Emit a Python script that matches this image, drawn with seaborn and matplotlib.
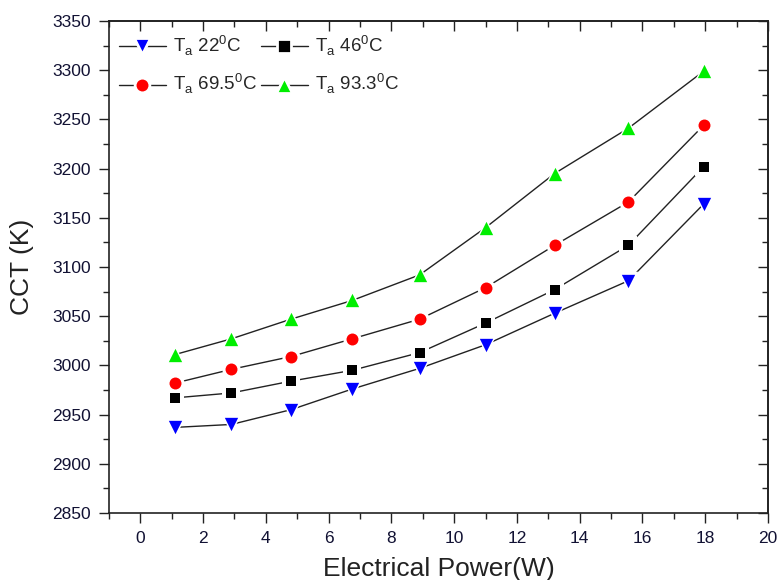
import matplotlib
matplotlib.use("Agg")
import matplotlib.pyplot as plt
from matplotlib.lines import Line2D
from matplotlib.ticker import MultipleLocator
import seaborn as sns
import pandas as pd

# Electrical power (W) and measured CCT (K) at four ambient temperatures
power = [1.1, 2.9, 4.8, 6.75, 8.9, 11.0, 13.2, 15.55, 17.95]
cct_22 = [2937, 2940, 2955, 2976, 2997, 3021, 3053, 3086, 3164]
cct_46 = [2967, 2972, 2984, 2995, 3013, 3043, 3077, 3122, 3202]
cct_695 = [2982, 2996, 3009, 3027, 3047, 3079, 3122, 3166, 3244]
cct_933 = [3011, 3027, 3047, 3066, 3092, 3140, 3195, 3241, 3299]

labels = [r"T$_{\rm a}$ 22$^{\rm 0}$C", r"T$_{\rm a}$ 46$^{\rm 0}$C",
          r"T$_{\rm a}$ 69.5$^{\rm 0}$C", r"T$_{\rm a}$ 93.3$^{\rm 0}$C"]
series = [cct_22, cct_46, cct_695, cct_933]
colors = ["#0000ff", "#000000", "#ff0000", "#00ee00"]
markers = ["v", "s", "o", "^"]
sizes = [9.6, 7.8, 8.6, 9.6]   # marker sizes in points

sns.set_theme(style="ticks")
plt.rcParams["font.family"] = ["Liberation Sans", "DejaVu Sans"]
plt.rcParams["mathtext.fontset"] = "custom"
plt.rcParams["mathtext.rm"] = "Liberation Sans"

fig = plt.figure(figsize=(7.8, 5.8), dpi=100)
ax = fig.add_axes([0.1397, 0.1155, 0.8449, 0.8483])

for vals, col, mk, ms in zip(series, colors, markers, sizes):
    df = pd.DataFrame({"power": power, "cct": vals})
    sns.lineplot(data=df, x="power", y="cct", ax=ax, color="#222222",
                 linewidth=1.0, zorder=2)
    # white halo leaves a small gap between the line and each marker
    sns.scatterplot(data=df, x="power", y="cct", ax=ax, marker=mk,
                    color="white", s=(ms + 4.5) ** 2, linewidth=0, zorder=3)
    sns.scatterplot(data=df, x="power", y="cct", ax=ax, marker=mk,
                    color=col, s=ms ** 2, linewidth=0, zorder=4)

ax.set_xlim(-1, 20)
ax.set_ylim(2850, 3350)
ax.xaxis.set_major_locator(MultipleLocator(2))
ax.xaxis.set_minor_locator(MultipleLocator(1))
ax.yaxis.set_major_locator(MultipleLocator(50))
ax.yaxis.set_minor_locator(MultipleLocator(25))

for s in ax.spines.values():
    s.set_visible(True)
    s.set_color("#222222")
    s.set_linewidth(1.2)

ax.tick_params(which="both", direction="out", colors="#222222",
               labelcolor="#111133", labelsize=12.5, width=1.0, pad=6)
ax.tick_params(which="major", length=7)
ax.tick_params(which="minor", length=4)

# inward ticks on the top and right spines
sec_x = ax.secondary_xaxis("top")
sec_x.xaxis.set_major_locator(MultipleLocator(2))
sec_x.xaxis.set_minor_locator(MultipleLocator(1))
sec_x.tick_params(which="both", direction="in", labeltop=False, width=1.0,
                  colors="#222222")
sec_x.tick_params(which="major", length=7)
sec_x.tick_params(which="minor", length=4)
sec_y = ax.secondary_yaxis("right")
sec_y.yaxis.set_major_locator(MultipleLocator(50))
sec_y.yaxis.set_minor_locator(MultipleLocator(25))
sec_y.tick_params(which="both", direction="in", labelright=False, width=1.0,
                  colors="#222222")
sec_y.tick_params(which="major", length=7)
sec_y.tick_params(which="minor", length=4)

ax.set_xlabel("Electrical Power(W)", fontsize=19, color="#222222", labelpad=8)
ax.set_ylabel("CCT (K)", fontsize=19, color="#222222", labelpad=13)

handles = []
for col, mk, ms, lab in zip(colors, markers, sizes, labels):
    handles.append(Line2D([0], [0], color="#222222", linewidth=1.0,
                          marker=mk, markersize=ms + 2.0, markerfacecolor=col,
                          markeredgecolor="white", markeredgewidth=2.0,
                          label=lab))
order = [0, 2, 1, 3]
ax.legend([handles[i] for i in order], [labels[i] for i in order],
          ncol=2, loc="upper left", frameon=False, fontsize=13.5,
          handlelength=2.5, labelspacing=0.75, columnspacing=0.2,
          handletextpad=0.4, borderaxespad=0.3, bbox_to_anchor=(-0.005, 1.0))

fig.savefig("out.png", dpi=100)
